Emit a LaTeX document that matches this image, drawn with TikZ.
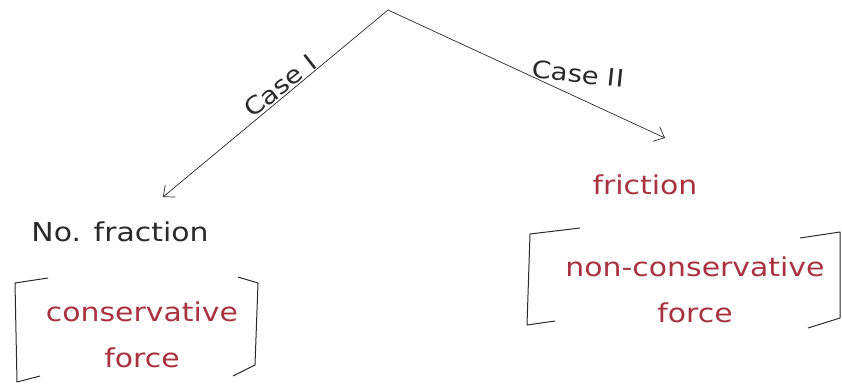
\documentclass[tikz,border=0pt]{standalone}
\usepackage{fontspec}
\setmainfont{DejaVu Sans}[FakeStretch=1.15]
\usetikzlibrary{arrows.meta}
\definecolor{inkred}{HTML}{A8323F}
\definecolor{ink}{HTML}{2A2A2A}
\begin{document}
\begin{tikzpicture}[x=1pt, y=-1pt, every node/.style={font=\fontsize{26}{46}\selectfont},
  lbl/.style={text=ink, inner sep=1pt},
  redtxt/.style={text=inkred, align=center, inner sep=1pt},
  branch/.style={draw=ink, line width=0.7pt, -{Straight Barb[length=9pt, width=16pt]}},
  brk/.style={draw=ink, line width=1pt, line join=round}]
  \useasboundingbox (0,0) rectangle (842,388);
  % branch point and arrow ends
  \coordinate (top) at (388,10);
  \coordinate (endI) at (163,197);
  \coordinate (endII) at (665,138);
  % Case I side
  \node[lbl] (nofric) at (120,232) {No. fraction};
  \node[redtxt] (cons) at (142,335) {conservative\\force};
  % Case II side
  \node[redtxt] (fric) at (645,185) {friction};
  \node[redtxt] (ncons) at (695,290) {non-conservative\\force};
  % branches
  \draw[branch] (top) -- (endI);
  \draw[branch] (top) -- (endII);
  \node[lbl, rotate=38, font=\fontsize{24}{28}\selectfont] (caseI) at (280,86) {Case I};
  \node[lbl, rotate=-6, font=\fontsize{24}{28}\selectfont] (caseII) at (578,74) {Case II};
  % brackets
  \draw[brk] (48,278) -- (15,283) -- (17,382) -- (40,376);
  \draw[brk] (238,277) -- (258,283) -- (255,365) -- (233,376);
  \draw[brk] (580,228) -- (530,234) -- (527,325) -- (555,321);
  \draw[brk] (800,238) -- (840,232) -- (840,318) -- (808,328);
\end{tikzpicture}
\end{document}
